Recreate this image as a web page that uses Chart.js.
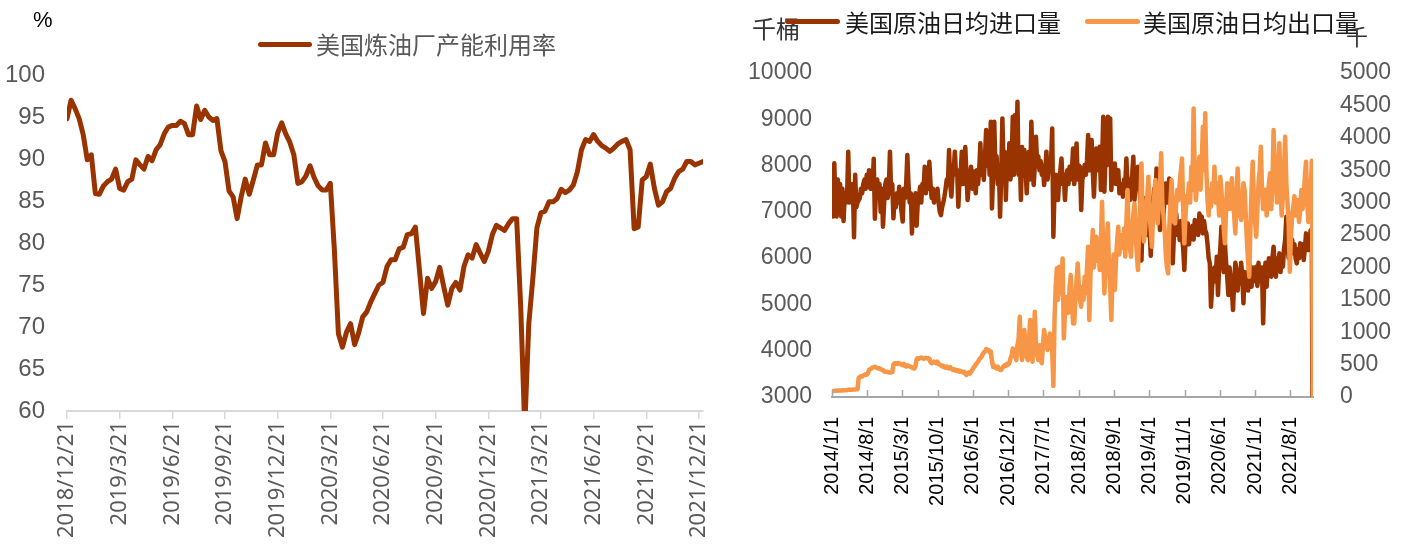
<!DOCTYPE html>
<html>
<head>
<meta charset="utf-8">
<script src="https://cdn.jsdelivr.net/npm/chart.js@4.4.1/dist/chart.umd.min.js"></script>
<style>
  html, body { margin:0; padding:0; background:#fff; }
  body { width:1416px; height:547px; position:relative; overflow:hidden; }
  canvas { position:absolute; top:0; }
  .t { position:absolute; white-space:nowrap; height:30px; line-height:30px; font-family:"Noto Sans CJK SC","Noto Sans",sans-serif; }
  .ln { position:absolute; height:5px; border-radius:3px; }
</style>
</head>
<body>
<canvas id="c1" width="710" height="547" style="left:0px"></canvas>
<canvas id="c2" width="696" height="547" style="left:720px"></canvas>

<div class="t" style="left:33px;top:5px;font-size:22px;color:#000;font-family:'Liberation Sans',Arial,sans-serif;">%</div>
<div class="ln" style="left:258px;top:42px;width:54px;background:#993300;"></div>
<div class="t" id="leg1" style="left:316px;top:29px;font-size:24px;color:#595959;">美国炼油厂产能利用率</div>

<div class="t" style="left:752px;top:13px;font-size:24px;color:#333;">千桶</div>
<div class="ln" style="left:785px;top:19px;width:55px;background:#993300;"></div>
<div class="t" id="leg2" style="left:845px;top:7px;font-size:24px;color:#1a1a1a;">美国原油日均进口量</div>
<div class="ln" style="left:1085px;top:19px;width:55px;background:#F79646;"></div>
<div class="t" id="leg3" style="left:1143px;top:7px;font-size:24px;color:#1a1a1a;">美国原油日均出口量</div>
<div class="t" style="left:1346px;top:20px;font-size:22px;color:#333;">千</div>

<script>
// ---------- Left chart: US refinery utilization (%), weekly ----------
const utilization = [
94.8,97.0,96.0,94.8,92.9,89.9,90.5,85.9,85.8,86.8,
87.3,87.6,88.8,86.5,86.3,87.3,87.6,89.9,89.3,88.8,
90.3,89.8,91.1,91.7,93.0,93.8,94.0,94.0,94.5,94.2,
92.9,92.9,96.3,94.7,95.8,95.0,94.6,94.8,91.0,89.7,
86.2,85.5,82.9,85.5,87.6,85.8,87.5,89.3,89.3,91.9,
90.5,90.5,93.1,94.3,93.0,92.0,90.5,87.1,87.3,88.0,
89.2,87.8,86.8,86.3,86.3,87.1,79.2,69.2,67.6,69.4,
70.4,67.9,69.3,71.2,71.8,73.0,74.0,75.0,75.3,77.2,
78.0,78.0,79.3,79.5,81.0,81.1,81.9,76.8,71.6,75.8,
74.6,75.4,77.1,74.8,72.6,74.6,75.3,74.4,77.2,78.6,
78.2,79.8,78.8,77.8,79.0,81.0,82.1,81.8,81.5,82.3,
82.9,82.9,72.4,58.0,70.4,75.8,81.8,83.6,83.8,84.9,
84.9,85.3,86.4,86.0,86.3,86.9,88.5,91.1,92.3,92.1,
92.9,92.1,91.6,91.3,90.9,91.3,91.8,92.1,92.3,91.1,
81.7,81.9,87.5,87.9,89.4,86.5,84.5,84.9,86.1,86.5,
87.7,88.5,88.8,89.7,89.7,89.3,89.5,89.7
];
const leftTickWeeks = [0,13,26,39,52,65,78,91,104,117,130,143,156];
const leftTickLabels = ['2018/12/21','2019/3/21','2019/6/21','2019/9/21','2019/12/21','2020/3/21','2020/6/21','2020/9/21','2020/12/21','2021/3/21','2021/6/21','2021/9/21','2021/12/21'];
const leftYTicks = [60,65,70,75,80,85,90,95,100];

// ---------- Right chart: US crude imports / exports (千桶/日), weekly from 2014/1/1 ----------
const imports = [
8000,6900,8050,7000,6900,7700,7300,7600,6900,7500,6800,7400,
7200,7300,8300,7200,7500,7300,7600,6450,7800,
7100,7200,7250,7300,7500,7400,7600,
7700,7500,7800,7600,7900,7500,7700,
7500,8150,6850,7500,
7700,7400,7600,7000,7500,6680,
7200,7600,7700,7300,7500,8300,7400,7600,6860,
7300,7100,7400,7200,7540,7300,7000,6790,7500,7300,7600,8230,
7600,7200,7400,6535,7300,7000,7400,6700,7200,7300,7540,
7200,7600,7500,7975,7400,7700,7500,8080,
7600,7300,7500,7200,7400,7300,7500,7200,7000,6930,7100,7200,7330,
7500,7700,7600,8335,7600,7330,
7800,7900,8300,7800,7900,7110,7700,7800,8300,7600,7900,8400,7800,7255,
7600,7800,7975,7500,7700,7870,7400,7900,7600,7900,8480,7800,8000,7690,
8200,8770,8000,8400,7800,8947,7075,7800,8947,
7900,8200,7600,8000,6895,7800,9019,
8000,8300,7255,8100,7800,8480,7700,8100,9055,7800,9091,
8000,9380,7800,8200,7255,8400,7800,8335,7900,7400,
8000,8300,7700,8947,8100,7580,8000,8623,8000,8200,7900,8100,7800,8000,7580,7900,8300,7700,8000,7900,
8100,8803,6463,7500,
7800,7600,7255,7700,7900,8155,7600,7800,7255,7700,7900,7600,7975,7700,7900,8371,
7600,7900,8479,7700,8000,7975,7039,7700,7800,8011,
7800,8100,8659,7900,8200,8551,7900,7327,8000,8371,7900,8100,8407,
7471,8000,9055,7435,8200,8000,9055,8400,9019,7471,
7900,7700,8047,7600,7800,7900,7400,7600,7500,7327,7700,7600,8155,7500,7700,7255,
7600,7800,8191,7255,7700,7500,7975,7687,7200,5950,6800,7300,6600,7000,6500,7200,6700,6050,6900,
7200,7500,7000,7939,7300,7000,6607,7100,7300,6900,7400,7615,7200,7500,7723,
7000,6600,5887,6500,6800,6967,6500,6700,6391,6800,6500,6200,5743,6400,6600,6751,6300,6500,6463,6700,6400,6823,6600,6800,6500,6967,
6700,6900,6535,6800,6600,6535,6300,6000,5887,4951,5400,5599,5800,5500,6031,5203,5800,6200,6679,6000,5700,6319,5900,5600,5203,5800,5500,5300,4879,
5500,5900,5743,5300,5700,5455,5900,5600,5023,5700,
5400,5599,5300,5887,5600,5383,5800,5500,5700,5815,
5400,5900,5500,5599,5800,4591,5600,5900,5383,5800,
6000,5887,5600,6000,6247,5800,5599,6000,5800,6103,
5700,6000,5815,6200,6400,6895,6300,6000,6607,6200,
6400,6103,6300,6000,5887,6200,6000,6319,6100,6300,
5959,6200,6535,6300,6175,6400,6600,6300,0
];
const exports = [
90,90,95,95,95,100,100,100,100,100,105,105,105,105,110,110,110,110,115,115,115,120,120,
290,310,320,315,330,340,350,345,365,420,
430,440,455,460,467,455,450,440,445,430,
420,415,395,390,385,390,380,375,380,385,
500,520,520,510,525,520,510,500,490,510,
480,470,490,480,470,467,455,445,440,470,
580,600,590,600,610,600,590,600,600,595,
600,590,540,520,530,545,530,520,545,510,
500,
490,470,480,460,450,470,450,440,460,440,
420,430,410,420,400,410,390,400,390,380,
390,360,340,370,380,360,390,420,450,470,
500,520,545,580,600,620,660,690,700,740,
720,725,690,700,560,467,480,450,440,470,
430,420,416,450,470,493,480,510,500,520,
600,640,750,700,620,570,800,900,1239,700,
570,800,1033,700,620,570,900,1187,700,545,
900,1316,800,650,570,800,600,520,800,1033,
900,800,725,850,980,900,700,169,1200,1700,
1985,1500,2010,1600,1800,2139,905,1300,1400,1547,
1300,1700,1882,1500,1136,
1136,1500,1800,2062,1700,1500,1393,1700,1500,1856,
1600,2000,2319,1188,1900,2200,2577,2000,2300,2474,
2100,2300,1959,2400,3014,2200,1599,2100,2400,2679,
2000,1700,1188,1900,2200,1651,2100,2400,2628,2200,
2500,2474,2300,2600,2165,2700,3194,2500,2300,2165,
2600,2800,2988,2500,2200,1959,2600,3000,3605,2800,
2400,2525,2900,3100,3400,2800,2600,2319,2800,3100,
3348,2900,2679,3000,3300,3760,3000,2800,2577,2200,
2000,1908,2600,3000,3348,2900,2700,2679,3000,3200,
3040,3300,3500,3682,2900,2371,2800,3100,3040,3300,
3000,3554,3200,4454,3400,3040,3300,3500,3708,3200,
3600,4171,3500,4377,3500,3040,2800,3200,2937,3300,
3100,3554,3000,3300,3142,2800,3400,3194,2900,2600,
2371,2900,3300,3194,2900,3100,3374,3000,2800,2525,
3100,3528,3000,2800,2731,3000,3300,3194,2800,2400,
2100,1856,2600,3200,3631,3000,2700,2474,2900,3300,
3500,3862,3200,2900,2937,3200,2800,3100,3300,3451,
2900,3300,4120,3500,3297,3000,3500,3914,3200,2800,
3100,3500,4017,3300,3000,2679,1933,2500,2800,2937,
3100,2800,3000,3040,2700,2900,3194,2900,3100,3400,
3631,3000,2700,2783,3200,3646,0
];
const rightTickLabels = ['2014/1/1','2014/8/1','2015/3/1','2015/10/1','2016/5/1','2016/12/1','2017/7/1','2018/2/1','2018/9/1','2019/4/1','2019/11/1','2020/6/1','2021/1/1','2021/8/1'];
const leftAxisTicks = [3000,4000,5000,6000,7000,8000,9000,10000];
const rightAxisTicks = [0,500,1000,1500,2000,2500,3000,3500,4000,4500,5000];

// week offset (from 2014/1/1) for each date label
function weekOf(label){
  const [y,m,d] = label.split('/').map(Number);
  return (Date.UTC(y,m-1,d) - Date.UTC(2014,0,1)) / 86400000 / 7;
}
const toPts = arr => arr.map((v,i)=>({x:i,y:v}));
const plain = v => String(v);

Chart.defaults.animation = false;
Chart.defaults.devicePixelRatio = 1;

const DARK = '#993300', ORANGE = '#F79646', GRAY = '#595959';

new Chart(document.getElementById('c1'), {
  type:'line',
  data:{ datasets:[{
    label:'美国炼油厂产能利用率', data: toPts(utilization),
    borderColor:DARK, backgroundColor:DARK, borderWidth:5, pointRadius:0,
    tension:0, borderJoinStyle:'round', borderCapStyle:'round'
  }]},
  options:{
    responsive:false, maintainAspectRatio:false,
    layout:{ padding:{ top:75, left:0, right:7, bottom:0 } },
    plugins:{ legend:{display:false}, tooltip:{enabled:false} },
    scales:{
      x:{ type:'linear', min:0, max:utilization.length-1,
        afterBuildTicks: s => { s.ticks = leftTickWeeks.map(v=>({value:v})); },
        afterFit: s => { s.height = 136; s.paddingLeft = 0; s.paddingRight = 0; },
        grid:{ drawOnChartArea:false, drawTicks:true, tickLength:8, color:'#d9d9d9', lineWidth:1.5 },
        border:{ display:true, color:'#d9d9d9', width:2 },
        ticks:{ autoSkip:false, maxRotation:90, minRotation:90, padding:2, color:GRAY,
          font:{ family:'"Noto Sans", "DejaVu Sans", sans-serif', size:22 },
          callback:(v)=>{ const k = leftTickWeeks.indexOf(v); return k>=0 ? leftTickLabels[k] : null; } }
      },
      y:{ min:60, max:100,
        afterBuildTicks: s => { s.ticks = leftYTicks.map(v=>({value:v})); },
        afterFit: s => { s.width = 67; },
        grid:{ display:false, drawTicks:false }, border:{ display:false },
        ticks:{ padding:22, color:GRAY, callback: plain,
          font:{ family:'"Liberation Sans Narrow", "Liberation Sans", Arial, sans-serif', size:24 } }
      }
    }
  }
});

const insideTicks = {
  id:'insideTicks',
  afterDraw(chart){
    const s = chart.scales.x, ctx = chart.ctx;
    ctx.save(); ctx.strokeStyle = '#a6a6a6'; ctx.lineWidth = 1.5;
    s.ticks.forEach(t => {
      const px = Math.round(s.getPixelForValue(t.value)) + 0.5;
      ctx.beginPath(); ctx.moveTo(px, s.top); ctx.lineTo(px, s.top - 7); ctx.stroke();
    });
    ctx.restore();
  }
};

new Chart(document.getElementById('c2'), {
  type:'line',
  data:{ datasets:[
    { label:'美国原油日均进口量', data: toPts(imports), yAxisID:'y', order:1,
      borderColor:DARK, backgroundColor:DARK, borderWidth:4.5, pointRadius:0,
      tension:0, borderJoinStyle:'round', borderCapStyle:'round' },
    { label:'美国原油日均出口量', data: toPts(exports), yAxisID:'y1', order:0,
      borderColor:ORANGE, backgroundColor:ORANGE, borderWidth:4.5, pointRadius:0,
      tension:0, borderJoinStyle:'round', borderCapStyle:'round' }
  ]},
  plugins:[insideTicks],
  options:{
    responsive:false, maintainAspectRatio:false,
    layout:{ padding:{ top:73, left:0, right:0, bottom:0 } },
    plugins:{ legend:{display:false}, tooltip:{enabled:false} },
    scales:{
      x:{ type:'linear', min:0, max:Math.max(imports.length, exports.length)-1,
        afterBuildTicks: s => { s.ticks = rightTickLabels.map(l=>({value:weekOf(l)})); },
        afterFit: s => { s.height = 150; s.paddingLeft = 0; s.paddingRight = 0; },
        grid:{ drawOnChartArea:false, drawTicks:false },
        border:{ display:true, color:'#a6a6a6', width:2 },
        ticks:{ autoSkip:false, maxRotation:90, minRotation:90, padding:20, color:'#000',
          font:{ family:'"Liberation Sans", Arial, sans-serif', size:20 },
          callback:(v)=>{ const k = rightTickLabels.findIndex(l=>Math.abs(weekOf(l)-v)<1e-6); return k>=0 ? rightTickLabels[k] : null; } }
      },
      y:{ position:'left', min:3000, max:10000,
        afterBuildTicks: s => { s.ticks = leftAxisTicks.map(v=>({value:v})); },
        afterFit: s => { s.width = 112; },
        grid:{ display:false, drawTicks:false }, border:{ display:false },
        ticks:{ padding:20, color:GRAY, callback: plain, font:{ family:'"Liberation Sans", Arial, sans-serif', size:23 } }
      },
      y1:{ position:'right', min:0, max:5000,
        afterBuildTicks: s => { s.ticks = rightAxisTicks.map(v=>({value:v})); },
        afterFit: s => { s.width = 103; },
        grid:{ display:false, drawTicks:false }, border:{ display:false },
        ticks:{ padding:27, color:GRAY, callback: plain, font:{ family:'"Liberation Sans", Arial, sans-serif', size:23 } }
      }
    }
  }
});
</script>
</body>
</html>
